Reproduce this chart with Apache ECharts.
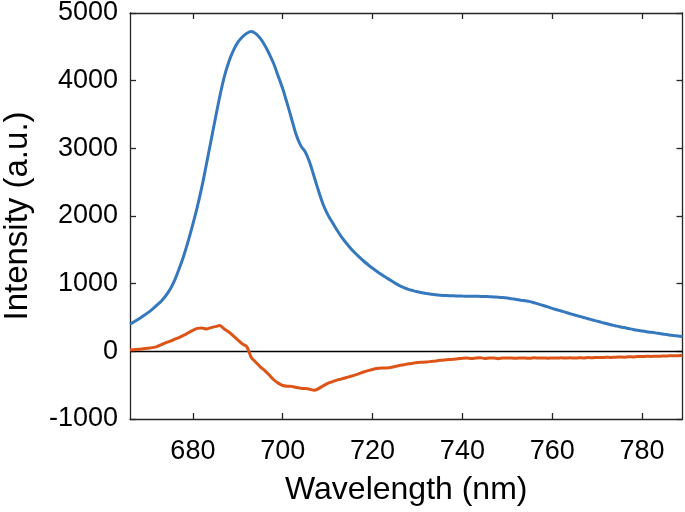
<!DOCTYPE html>
<html>
<head>
<meta charset="utf-8">
<script src="https://cdn.jsdelivr.net/npm/echarts@6/dist/echarts.min.js"></script>
<style>
html,body{margin:0;padding:0;background:#fff;}
#chart{width:685px;height:512px;}
</style>
</head>
<body>
<div id="chart"></div>
<script>
const wavelength = [
666,667,668,669,670,671,672,673,674,675,676,677,678,679,680,681,682,683,684,685,
686,687,688,689,690,691,692,693,694,695,696,697,698,699,700,701,702,703,704,705,
706,707,708,709,710,711,712,713,714,715,716,717,718,719,720,721,722,723,724,725,
726,727,728,729,730,731,732,733,734,735,736,737,738,739,740,741,742,743,744,745,
746,747,748,749,750,751,752,753,754,755,756,757,758,759,760,761,762,763,764,765,
766,767,768,769,770,771,772,773,774,775,776,777,778,779,780,781,782,783,784,785,
786,787,788,789];

const blueSpectrum = [
400,440,482,525,572,625,683,745,825,925,1060,1230,1420,1640,1880,2140,2430,2760,3100,3440,
3770,4060,4280,4445,4565,4645,4700,4725,4695,4625,4525,4395,4250,4065,3880,3660,3430,3200,3040,2950,
2790,2580,2365,2170,2025,1910,1800,1700,1612,1532,1460,1395,1335,1280,1228,1180,1135,1092,1050,1008,
972,942,916,897,880,866,855,845,836,829,825,822,820,818,816,815,814,813,812,810,
807,803,800,795,787,777,767,756,746,735,717,697,677,657,634,615,596,576,556,537,
518,500,481,463,446,428,411,393,378,363,351,337,323,311,301,291,281,273,262,252,
243,234,226,218];

const orangeDiff = [
20,25,30,38,45,55,70,98,128,150,180,208,240,275,310,340,345,330,350,365,
380,330,285,230,170,110,70,-90,-160,-230,-285,-350,-420,-470,-505,-515,-518,-535,-545,-550,
-560,-575,-550,-510,-475,-450,-425,-410,-390,-372,-352,-330,-305,-285,-268,-255,-248,-245,-240,-225,
-210,-198,-185,-175,-166,-162,-158,-150,-142,-133,-127,-122,-118,-110,-104,-100,-106,-100,-95,-105,
-98,-100,-108,-98,-100,-98,-103,-97,-100,-104,-96,-100,-98,-102,-97,-100,-95,-99,-96,-100,
-94,-97,-92,-95,-90,-92,-88,-90,-86,-84,-86,-80,-82,-77,-78,-74,-75,-71,-72,-68,
-67,-65,-64,-62];

const xTicks = [680,700,720,740,760,780];
const yTicks = [-1000,0,1000,2000,3000,4000,5000];

const blueData = wavelength.map((w,i)=>[w, blueSpectrum[i]]);
const orangeData = wavelength.map((w,i)=>[w, orangeDiff[i]]);

const FONT = "Helvetica, 'Liberation Sans', Arial, sans-serif";
const axisColor = '#262626';
const chart = echarts.init(document.getElementById('chart'), null, {renderer:'canvas'});

const common = {
  type:'value',
  axisLine:{show:true, onZero:false, lineStyle:{color:axisColor, width:1.3}},
  splitLine:{show:false}
};

chart.setOption({
  animation:false,
  backgroundColor:'#fff',
  grid:{left:130, right:2.5, top:13, bottom:93, containLabel:false, outerBoundsMode:'none'},
  xAxis:[
    Object.assign({}, common, {
      min:666, max:789, position:'bottom',
      name:'Wavelength (nm)', nameLocation:'middle', nameGap:55,
      nameTextStyle:{fontFamily:FONT, fontSize:32, color:'#000'},
      axisTick:{show:true, inside:true, length:6, customValues:xTicks, lineStyle:{color:axisColor, width:1.3}},
      axisLabel:{show:true, customValues:xTicks, fontFamily:FONT, fontSize:27, color:'#000', margin:19}
    }),
    Object.assign({}, common, {
      min:666, max:789, position:'top',
      axisTick:{show:true, inside:true, length:6, customValues:xTicks, lineStyle:{color:axisColor, width:1.3}},
      axisLabel:{show:false}
    })
  ],
  yAxis:[
    Object.assign({}, common, {
      min:-1000, max:5000, interval:1000, position:'left',
      name:'Intensity (a.u.)', nameLocation:'middle', nameGap:96,
      nameTextStyle:{fontFamily:FONT, fontSize:33, color:'#000'},
      axisTick:{show:true, inside:true, length:6, lineStyle:{color:axisColor, width:1.3}},
      axisLabel:{show:true, fontFamily:FONT, fontSize:27, color:'#000', margin:12,
        formatter:(v)=>String(v)}
    }),
    Object.assign({}, common, {
      min:-1000, max:5000, interval:1000, position:'right',
      axisTick:{show:true, inside:true, length:6, lineStyle:{color:axisColor, width:1.3}},
      axisLabel:{show:false}
    })
  ],
  series:[
    {
      type:'line', xAxisIndex:0, yAxisIndex:0, data:blueData,
      showSymbol:false, smooth:0.4,
      lineStyle:{color:'#3578bd', width:3}, itemStyle:{color:'#3578bd'},
      z:3
    },
    {
      type:'line', xAxisIndex:0, yAxisIndex:0, data:orangeData,
      showSymbol:false, smooth:0.2,
      lineStyle:{color:'#dc5418', width:3}, itemStyle:{color:'#dc5418'},
      z:4,
      markLine:{
        silent:true, symbol:['none','none'], label:{show:false},
        lineStyle:{color:'#000', width:1.4, type:'solid'},
        data:[[{coord:[666,0]},{coord:[789,0]}]],
        z:2
      }
    }
  ]
});
</script>
</body>
</html>
